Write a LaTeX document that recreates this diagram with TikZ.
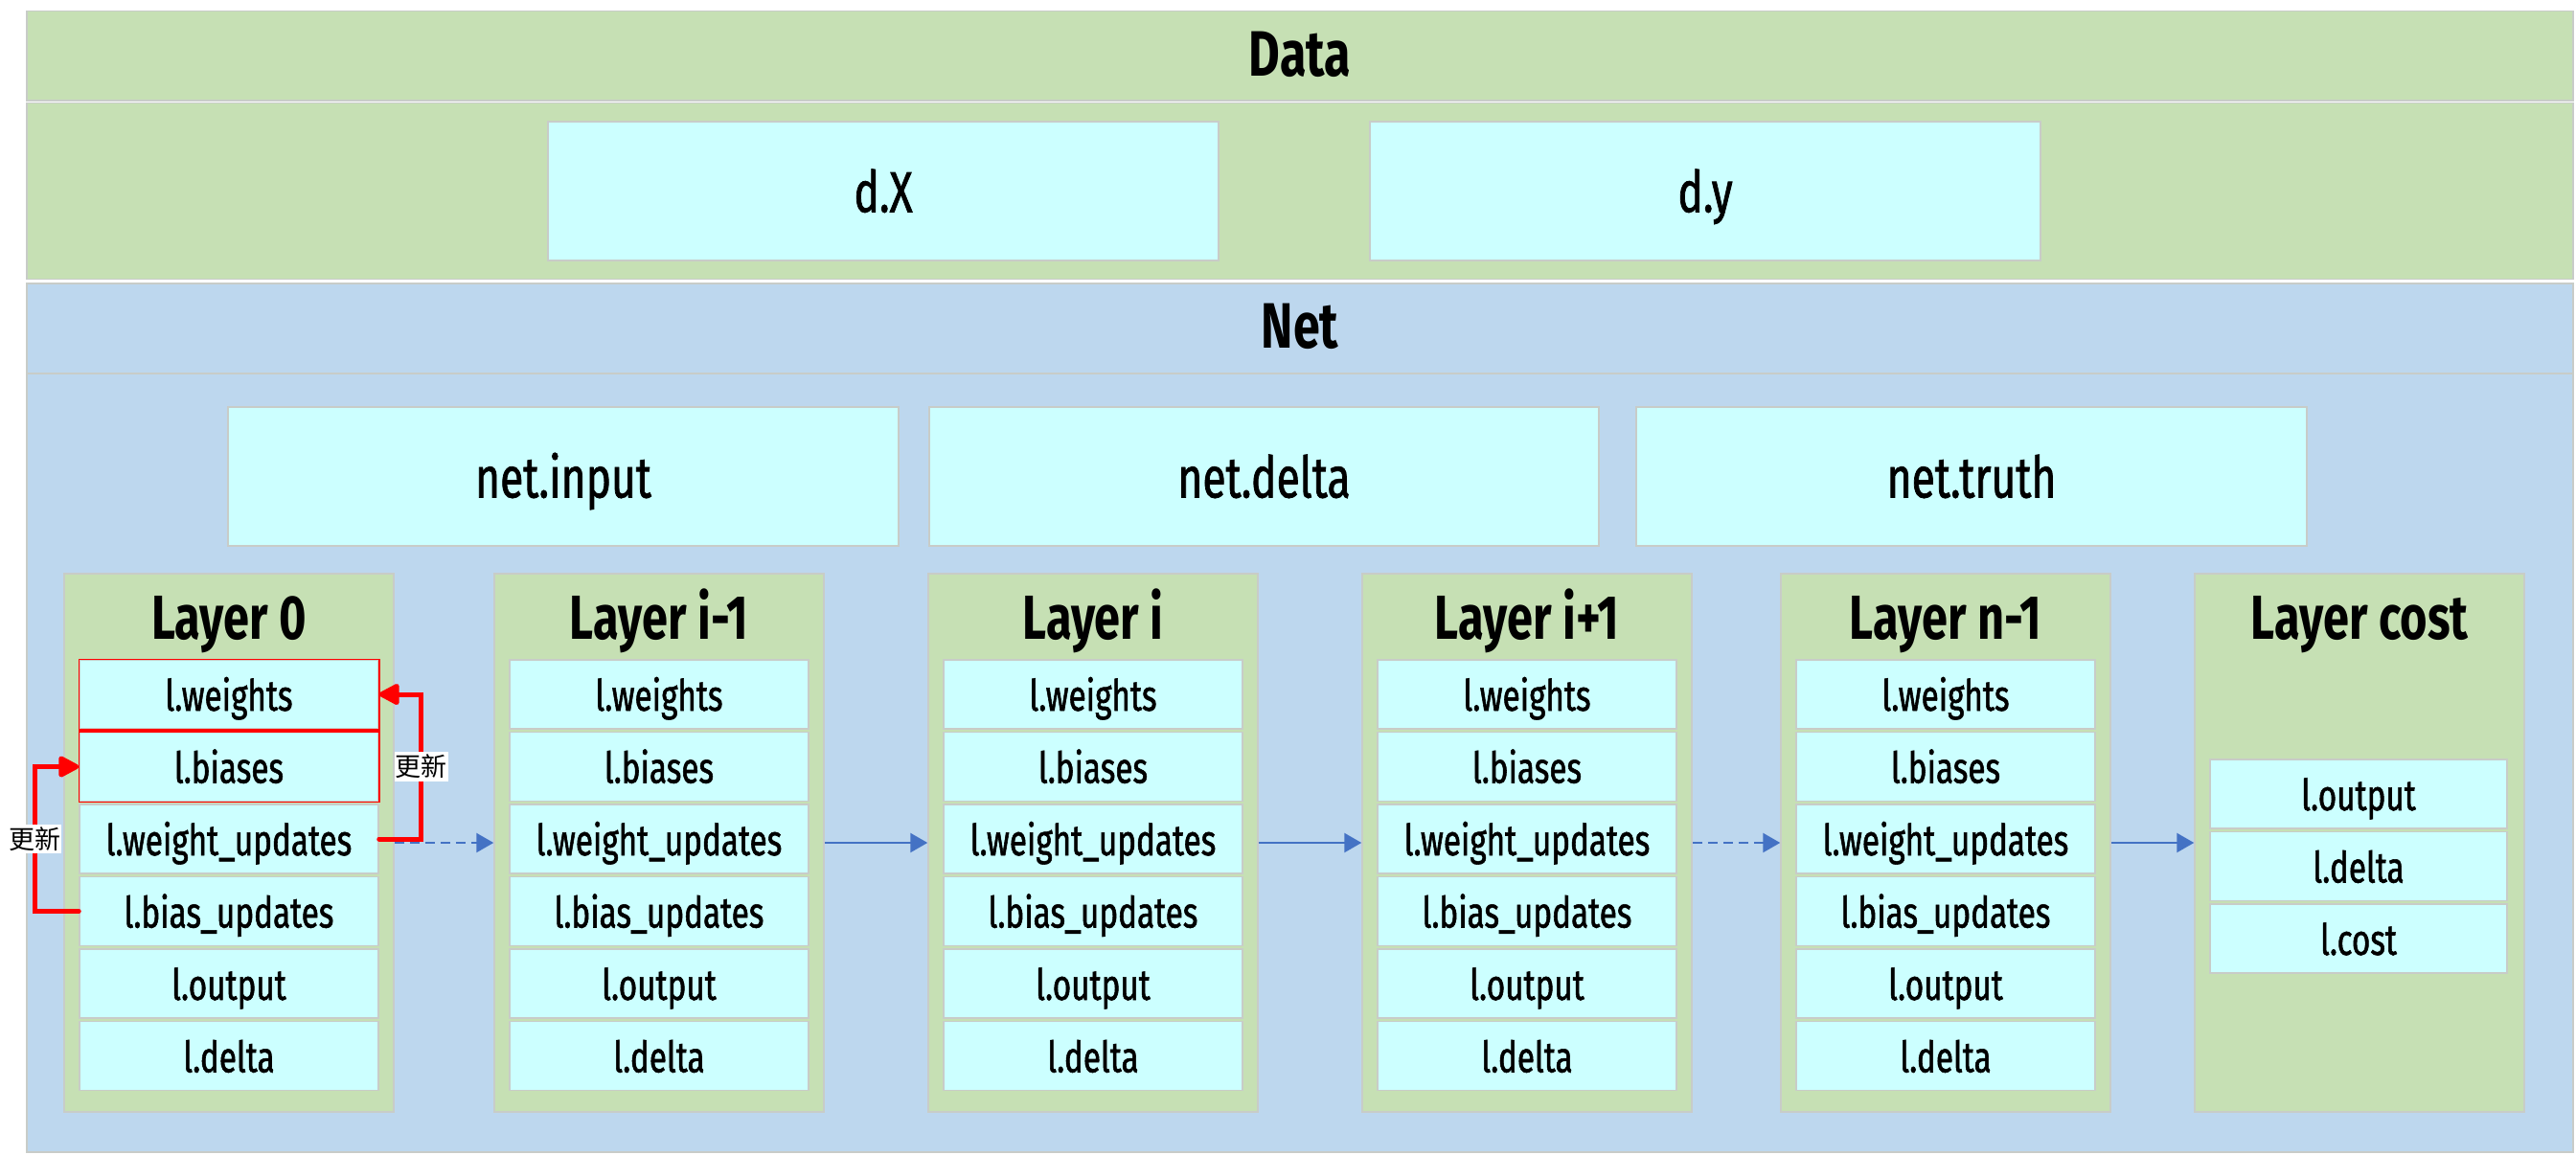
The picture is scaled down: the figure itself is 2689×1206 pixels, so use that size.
\documentclass[tikz,border=0pt]{standalone}
\usepackage{fontspec}
\setmainfont{Fira Sans}[FakeStretch=0.75]
\newfontfamily\cellfont{Fira Sans}[FakeStretch=0.74,FakeBold=1.2]
\newfontfamily\cjk{Noto Sans CJK SC}
\usetikzlibrary{arrows.meta}
\definecolor{bandgreen}{HTML}{C6E0B4}
\definecolor{bandblue}{HTML}{BDD7EE}
\definecolor{cellcyan}{HTML}{CCFFFF}
\definecolor{arrowblue}{HTML}{4472C4}
\definecolor{edgegrey}{HTML}{C8CCC8}
\begin{document}
\begin{tikzpicture}[x=1pt,y=-1pt,
  bandG/.style={fill=bandgreen,draw=edgegrey,line width=1.5pt},
  bandB/.style={fill=bandblue,draw=edgegrey,line width=1.5pt},
  headtitle/.style={anchor=base,inner sep=0pt,font=\fontsize{67}{70}\selectfont\bfseries},
  bigcell/.style={fill=cellcyan,draw=edgegrey,line width=1.5pt,inner sep=0pt,
    minimum height=145pt,text height=44pt,text depth=0pt,font=\cellfont\fontsize{60}{64}\selectfont},
  layerbox/.style={fill=bandgreen,draw=edgegrey,line width=1.5pt,inner sep=0pt,
    minimum width=344pt,minimum height=562pt},
  layertitle/.style={anchor=base,inner sep=0pt,font=\fontsize{65}{68}\selectfont\bfseries},
  field/.style={fill=cellcyan,draw=edgegrey,line width=1.5pt,inner sep=0pt,
    minimum width=312pt,minimum height=72pt,text height=34pt,text depth=0pt,
    font=\cellfont\fontsize{45}{48}\selectfont},
  redfield/.style={draw=red,line width=1.5pt},
  flow/.style={draw=arrowblue,line width=2.5pt,-{Triangle[length=18pt,width=20pt]}},
  flowdash/.style={flow,dash pattern=on 10pt off 6pt},
  upd/.style={draw=red,line width=5pt,line cap=round,-{Triangle[length=24pt,width=24pt,round]}},
  updlabel/.style={fill=white,inner xsep=1pt,inner ysep=3pt,font=\cjk\fontsize{27}{29}\selectfont}
]
\useasboundingbox (0,0) rectangle (2689,1206);
\fill[white] (0,0) rectangle (2689,1206);

% Data band
\draw[bandG] (28,11.5) rectangle (2686,105);
\draw[bandG] (28,107.5) rectangle (2686,291.6);
\node[headtitle] (datatitle) at (1357,80) {Data};
\node[bigcell,minimum width=700pt] (dX) at (922,199.4) {d.X};
\node[bigcell,minimum width=700pt] (dy) at (1780,199.4) {d.y};

% Net band
\draw[bandB] (28,296) rectangle (2686,1203);
\draw[draw=edgegrey,line width=1.5pt] (28,390) -- (2686,390);
\node[headtitle] (nettitle) at (1357,363.5) {Net};
\node[bigcell,minimum width=700pt] (netinput) at (588,497.5) {net.input};
\node[bigcell,minimum width=699pt] (netdelta) at (1319.5,497.5) {net.delta};
\node[bigcell,minimum width=700pt] (nettruth) at (2058,497.5) {net.truth};

% Layers
\foreach \nm/\lx/\ttl in {L0/67/Layer 0, L1/516/Layer i-1, L2/969/Layer i, L3/1422/Layer i+1, L4/1859/Layer n-1}{
  \node[layerbox] (\nm box) at (\lx+172,880) {};
  \node[layertitle] (\nm title) at (\lx+172,667) {\ttl};
  \foreach \f/\txt [count=\k from 0] in {w/l.weights, b/l.biases, wu/l.weight\_updates, bu/l.bias\_updates, o/l.output, d/l.delta}{
    \node[field] (\nm\f) at (\lx+172,725+75.5*\k) {\txt};
  }
}
\node[layerbox] (L5box) at (2463,880) {};
\node[layertitle] (L5title) at (2463,667) {Layer cost};
\node[field,minimum width=310pt] (L5o) at (2462,829) {l.output};
\node[field,minimum width=310pt] (L5d) at (2462,904.5) {l.delta};
\node[field,minimum width=310pt] (L5c) at (2462,980) {l.cost};

% red borders on updated fields
\draw[redfield] (L0w.north west) rectangle (L0w.south east);
\draw[redfield] (L0b.north west) rectangle (L0b.south east);

% flow arrows
\draw[flowdash] (L0box.east) -- (L1box.west);
\draw[flow] (L1box.east) -- (L2box.west);
\draw[flow] (L2box.east) -- (L3box.west);
\draw[flowdash] (L3box.east) -- (L4box.west);
\draw[flow] (L4box.east) -- (L5box.west);

% update arrows
\draw[upd] (L0wu.east) -- ++(44,0) |- node[pos=0.25,updlabel] (updR) {更新} (L0w.east);
\draw[upd] (L0bu.west) -- ++(-46,0) |- node[pos=0.25,updlabel] (updL) {更新} (L0b.west);
\end{tikzpicture}
\end{document}
